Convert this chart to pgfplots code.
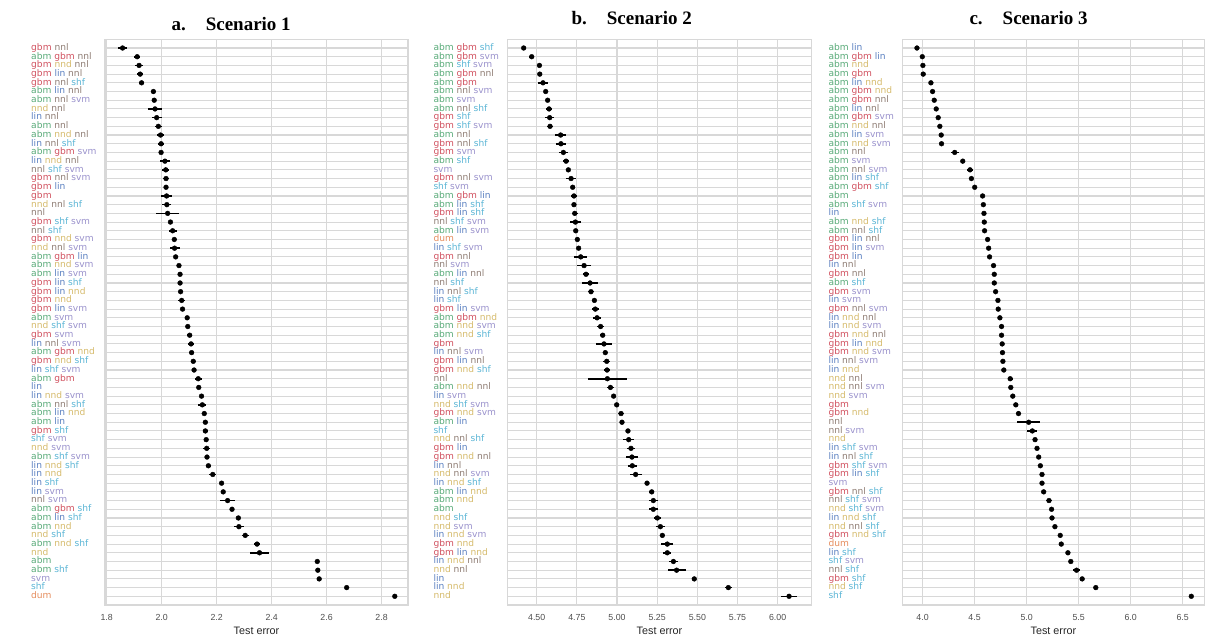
\documentclass[border=0pt]{standalone}
\usepackage{pgfplots}
\pgfplotsset{compat=1.18}
\usepackage{pgfplotstable}
\usepackage{fontspec}
\setmainfont{Liberation Sans}
\newfontfamily\labfont{DejaVu Sans}
\newfontfamily\titlefont{Liberation Serif}

% learner colours
\definecolor{cabm}{RGB}{88,170,120}
\definecolor{cgbm}{RGB}{208,80,94}
\definecolor{clin}{RGB}{90,128,192}
\definecolor{cnnd}{RGB}{213,186,107}
\definecolor{cnnl}{RGB}{142,124,115}
\definecolor{cshf}{RGB}{91,181,213}
\definecolor{csvm}{RGB}{154,146,204}
\definecolor{cdum}{RGB}{229,140,92}
\definecolor{gridc}{RGB}{216,216,216}
\definecolor{tickc}{RGB}{77,77,77}

\newcommand\abm{\textcolor{cabm}{abm}}
\newcommand\gbm{\textcolor{cgbm}{gbm}}
\newcommand\lin{\textcolor{clin}{lin}}
\newcommand\nnd{\textcolor{cnnd}{nnd}}
\newcommand\nnl{\textcolor{cnnl}{nnl}}
\newcommand\shf{\textcolor{cshf}{shf}}
\newcommand\svm{\textcolor{csvm}{svm}}
\newcommand\dum{\textcolor{cdum}{dum}}

% rank, mean test error, half-width of interval
\pgfplotstableread{
r v e
1 1.858 0.015
2 1.911 0.012
3 1.918 0.015
4 1.922 0.010
5 1.927 0.010
6 1.970 0.010
7 1.973 0.007
8 1.976 0.024
9 1.982 0.018
10 1.988 0.012
11 1.996 0.012
12 1.998 0.010
13 1.998 0.006
14 2.012 0.018
15 2.015 0.012
16 2.016 0.012
17 2.016 0.007
18 2.018 0.021
19 2.019 0.016
20 2.022 0.042
21 2.032 0.006
22 2.040 0.015
23 2.046 0.010
24 2.047 0.018
25 2.051 0.007
26 2.063 0.006
27 2.067 0.006
28 2.067 0.006
29 2.069 0.007
30 2.073 0.012
31 2.076 0.007
32 2.093 0.006
33 2.095 0.006
34 2.102 0.010
35 2.107 0.012
36 2.109 0.008
37 2.115 0.010
38 2.118 0.007
39 2.133 0.012
40 2.135 0.007
41 2.145 0.007
42 2.148 0.015
43 2.155 0.008
44 2.159 0.007
45 2.159 0.010
46 2.162 0.007
47 2.164 0.012
48 2.165 0.007
49 2.170 0.010
50 2.186 0.012
51 2.218 0.006
52 2.224 0.006
53 2.240 0.027
54 2.256 0.007
55 2.279 0.006
56 2.281 0.017
57 2.304 0.012
58 2.347 0.012
59 2.356 0.034
60 2.566 0.006
61 2.568 0.005
62 2.573 0.005
63 2.673 0.006
64 2.848 0.006
}\tabA

\pgfplotstableread{
r v e
1 4.419 0.012
2 4.469 0.017
3 4.517 0.010
4 4.519 0.012
5 4.539 0.029
6 4.556 0.012
7 4.568 0.012
8 4.577 0.017
9 4.581 0.029
10 4.583 0.021
11 4.649 0.033
12 4.651 0.033
13 4.666 0.029
14 4.683 0.017
15 4.697 0.012
16 4.714 0.029
17 4.724 0.012
18 4.732 0.017
19 4.732 0.012
20 4.737 0.017
21 4.741 0.033
22 4.743 0.012
23 4.753 0.010
24 4.761 0.010
25 4.774 0.041
26 4.795 0.046
27 4.807 0.021
28 4.832 0.052
29 4.838 0.021
30 4.859 0.010
31 4.865 0.021
32 4.876 0.025
33 4.898 0.021
34 4.911 0.017
35 4.919 0.052
36 4.927 0.017
37 4.936 0.021
38 4.938 0.021
39 4.940 0.120
40 4.959 0.021
41 4.979 0.010
42 4.998 0.012
43 5.025 0.021
44 5.031 0.012
45 5.068 0.010
46 5.073 0.033
47 5.087 0.025
48 5.093 0.037
49 5.095 0.029
50 5.116 0.037
51 5.187 0.012
52 5.216 0.017
53 5.226 0.029
54 5.226 0.029
55 5.251 0.021
56 5.270 0.029
57 5.282 0.017
58 5.313 0.037
59 5.313 0.025
60 5.351 0.029
61 5.371 0.056
62 5.481 0.010
63 5.693 0.021
64 6.071 0.052
}\tabB

\pgfplotstableread{
r v e
1 3.946 0.012
2 3.997 0.012
3 4.003 0.012
4 4.006 0.012
5 4.080 0.012
6 4.096 0.012
7 4.112 0.012
8 4.131 0.012
9 4.150 0.012
10 4.166 0.012
11 4.179 0.012
12 4.182 0.012
13 4.309 0.038
14 4.386 0.012
15 4.456 0.025
16 4.469 0.012
17 4.501 0.012
18 4.577 0.012
19 4.584 0.012
20 4.590 0.012
21 4.593 0.012
22 4.596 0.018
23 4.625 0.012
24 4.635 0.012
25 4.644 0.012
26 4.682 0.018
27 4.689 0.012
28 4.689 0.012
29 4.702 0.012
30 4.724 0.012
31 4.727 0.012
32 4.743 0.012
33 4.759 0.012
34 4.759 0.012
35 4.765 0.012
36 4.768 0.012
37 4.772 0.012
38 4.781 0.012
39 4.842 0.025
40 4.848 0.012
41 4.867 0.012
42 4.896 0.018
43 4.922 0.012
44 5.020 0.108
45 5.055 0.048
46 5.081 0.018
47 5.100 0.012
48 5.116 0.012
49 5.132 0.012
50 5.148 0.012
51 5.148 0.012
52 5.164 0.012
53 5.215 0.025
54 5.240 0.012
55 5.244 0.012
56 5.272 0.012
57 5.323 0.012
58 5.333 0.012
59 5.397 0.012
60 5.425 0.012
61 5.480 0.032
62 5.534 0.012
63 5.665 0.018
64 6.583 0.012
}\tabC

\pgfplotsset{
  panel/.style={
    scale only axis, width=303pt, height=565.7pt, anchor=south west,
    y dir=reverse, ymin=0, ymax=65, ytick={1,...,64},
    xmajorgrids, ymajorgrids,
    grid style={gridc, line width=1.1pt},
    axis line style={gridc, line width=1.1pt},
    major tick length=0pt,
    yticklabel style={anchor=west, xshift=-74pt, inner sep=0pt,
      font=\labfont\fontsize{9.1}{9}\selectfont, text height=6.6pt, text depth=1.9pt},
    xticklabel style={font=\fontsize{8.8}{9}\selectfont, text=tickc,
      anchor=base, yshift=-15.7pt, inner sep=0pt},
    /pgf/number format/assume math mode=true,
    /pgf/number format/fixed, /pgf/number format/fixed zerofill,
    xlabel={Test error},
    xlabel style={font=\fontsize{10.8}{11}\selectfont, text=black!85,
      at={(rel axis cs:0.5,0)}, anchor=base, yshift=-29.5pt, inner sep=0pt},
  },
  dots/.style={black, only marks, mark=*, mark size=2.4pt,
    mark options={fill=black, draw=black},
    error bars/.cd, x dir=both, x explicit, error mark=none,
    error bar style={line width=1.6pt, black}},
}

\begin{document}
\begin{tikzpicture}
\useasboundingbox (0pt,0pt) rectangle (1205pt,635pt);

\node[anchor=base west, font=\titlefont\bfseries\fontsize{19}{19}\selectfont]
  at (168pt,604.5pt) {a.\hspace{20pt}Scenario 1};
\node[anchor=base west, font=\titlefont\bfseries\fontsize{19}{19}\selectfont]
  at (568pt,610.5pt) {b.\hspace{20pt}Scenario 2};
\node[anchor=base west, font=\titlefont\bfseries\fontsize{19}{19}\selectfont]
  at (966pt,610.5pt) {c.\hspace{20pt}Scenario 3};

% Scenario 1
\begin{axis}[panel, at={(105pt,30pt)},
  xmin=1.794, xmax=2.896, xtick={1.8,2.0,2.2,2.4,2.6,2.8},
  /pgf/number format/precision=1,
  yticklabels={
    {\gbm\ \nnl},{\abm\ \gbm\ \nnl},{\gbm\ \nnd\ \nnl},{\gbm\ \lin\ \nnl},
    {\gbm\ \nnl\ \shf},{\abm\ \lin\ \nnl},{\abm\ \nnl\ \svm},{\nnd\ \nnl},
    {\lin\ \nnl},{\abm\ \nnl},{\abm\ \nnd\ \nnl},{\lin\ \nnl\ \shf},
    {\abm\ \gbm\ \svm},{\lin\ \nnd\ \nnl},{\nnl\ \shf\ \svm},{\gbm\ \nnl\ \svm},
    {\gbm\ \lin},{\gbm},{\nnd\ \nnl\ \shf},{\nnl},
    {\gbm\ \shf\ \svm},{\nnl\ \shf},{\gbm\ \nnd\ \svm},{\nnd\ \nnl\ \svm},
    {\abm\ \gbm\ \lin},{\abm\ \nnd\ \svm},{\abm\ \lin\ \svm},{\gbm\ \lin\ \shf},
    {\gbm\ \lin\ \nnd},{\gbm\ \nnd},{\gbm\ \lin\ \svm},{\abm\ \svm},
    {\nnd\ \shf\ \svm},{\gbm\ \svm},{\lin\ \nnl\ \svm},{\abm\ \gbm\ \nnd},
    {\gbm\ \nnd\ \shf},{\lin\ \shf\ \svm},{\abm\ \gbm},{\lin},
    {\lin\ \nnd\ \svm},{\abm\ \nnl\ \shf},{\abm\ \lin\ \nnd},{\abm\ \lin},
    {\gbm\ \shf},{\shf\ \svm},{\nnd\ \svm},{\abm\ \shf\ \svm},
    {\lin\ \nnd\ \shf},{\lin\ \nnd},{\lin\ \shf},{\lin\ \svm},
    {\nnl\ \svm},{\abm\ \gbm\ \shf},{\abm\ \lin\ \shf},{\abm\ \nnd},
    {\nnd\ \shf},{\abm\ \nnd\ \shf},{\nnd},{\abm},
    {\abm\ \shf},{\svm},{\shf},{\dum}},
]
\addplot[dots] table[x=v, y=r, x error=e] {\tabA};
\end{axis}

% Scenario 2
\begin{axis}[panel, at={(507.3pt,30pt)}, width=304.4pt,
  xmin=4.317, xmax=6.212, xtick={4.5,4.75,5,5.25,5.5,5.75,6},
  /pgf/number format/precision=2,
  yticklabels={
    {\abm\ \gbm\ \shf},{\abm\ \gbm\ \svm},{\abm\ \shf\ \svm},{\abm\ \gbm\ \nnl},
    {\abm\ \gbm},{\abm\ \nnl\ \svm},{\abm\ \svm},{\abm\ \nnl\ \shf},
    {\gbm\ \shf},{\gbm\ \shf\ \svm},{\abm\ \nnl},{\gbm\ \nnl\ \shf},
    {\gbm\ \svm},{\abm\ \shf},{\svm},{\gbm\ \nnl\ \svm},
    {\shf\ \svm},{\abm\ \gbm\ \lin},{\abm\ \lin\ \shf},{\gbm\ \lin\ \shf},
    {\nnl\ \shf\ \svm},{\abm\ \lin\ \svm},{\dum},{\lin\ \shf\ \svm},
    {\gbm\ \nnl},{\nnl\ \svm},{\abm\ \lin\ \nnl},{\nnl\ \shf},
    {\lin\ \nnl\ \shf},{\lin\ \shf},{\gbm\ \lin\ \svm},{\abm\ \gbm\ \nnd},
    {\abm\ \nnd\ \svm},{\abm\ \nnd\ \shf},{\gbm},{\lin\ \nnl\ \svm},
    {\gbm\ \lin\ \nnl},{\gbm\ \nnd\ \shf},{\nnl},{\abm\ \nnd\ \nnl},
    {\lin\ \svm},{\nnd\ \shf\ \svm},{\gbm\ \nnd\ \svm},{\abm\ \lin},
    {\shf},{\nnd\ \nnl\ \shf},{\gbm\ \lin},{\gbm\ \nnd\ \nnl},
    {\lin\ \nnl},{\nnd\ \nnl\ \svm},{\lin\ \nnd\ \shf},{\abm\ \lin\ \nnd},
    {\abm\ \nnd},{\abm},{\nnd\ \shf},{\nnd\ \svm},
    {\lin\ \nnd\ \svm},{\gbm\ \nnd},{\gbm\ \lin\ \nnd},{\lin\ \nnd\ \nnl},
    {\nnd\ \nnl},{\lin},{\lin\ \nnd},{\nnd}},
]
\addplot[dots] table[x=v, y=r, x error=e] {\tabB};
\end{axis}

% Scenario 3
\begin{axis}[panel, at={(902.3pt,30pt)}, width=302.2pt,
  xmin=3.805, xmax=6.71, xtick={4,4.5,5,5.5,6,6.5},
  /pgf/number format/precision=1,
  yticklabels={
    {\abm\ \lin},{\abm\ \gbm\ \lin},{\abm\ \nnd},{\abm\ \gbm},
    {\abm\ \lin\ \nnd},{\abm\ \gbm\ \nnd},{\abm\ \gbm\ \nnl},{\abm\ \lin\ \nnl},
    {\abm\ \gbm\ \svm},{\abm\ \nnd\ \nnl},{\abm\ \lin\ \svm},{\abm\ \nnd\ \svm},
    {\abm\ \nnl},{\abm\ \svm},{\abm\ \nnl\ \svm},{\abm\ \lin\ \shf},
    {\abm\ \gbm\ \shf},{\abm},{\abm\ \shf\ \svm},{\lin},
    {\abm\ \nnd\ \shf},{\abm\ \nnl\ \shf},{\gbm\ \lin\ \nnl},{\gbm\ \lin\ \svm},
    {\gbm\ \lin},{\lin\ \nnl},{\gbm\ \nnl},{\abm\ \shf},
    {\gbm\ \svm},{\lin\ \svm},{\gbm\ \nnl\ \svm},{\lin\ \nnd\ \nnl},
    {\lin\ \nnd\ \svm},{\gbm\ \nnd\ \nnl},{\gbm\ \lin\ \nnd},{\gbm\ \nnd\ \svm},
    {\lin\ \nnl\ \svm},{\lin\ \nnd},{\nnd\ \nnl},{\nnd\ \nnl\ \svm},
    {\nnd\ \svm},{\gbm},{\gbm\ \nnd},{\nnl},
    {\nnl\ \svm},{\nnd},{\lin\ \shf\ \svm},{\lin\ \nnl\ \shf},
    {\gbm\ \shf\ \svm},{\gbm\ \lin\ \shf},{\svm},{\gbm\ \nnl\ \shf},
    {\nnl\ \shf\ \svm},{\nnd\ \shf\ \svm},{\lin\ \nnd\ \shf},{\nnd\ \nnl\ \shf},
    {\gbm\ \nnd\ \shf},{\dum},{\lin\ \shf},{\shf\ \svm},
    {\nnl\ \shf},{\gbm\ \shf},{\nnd\ \shf},{\shf}},
]
\addplot[dots] table[x=v, y=r, x error=e] {\tabC};
\end{axis}
\end{tikzpicture}
\end{document}
